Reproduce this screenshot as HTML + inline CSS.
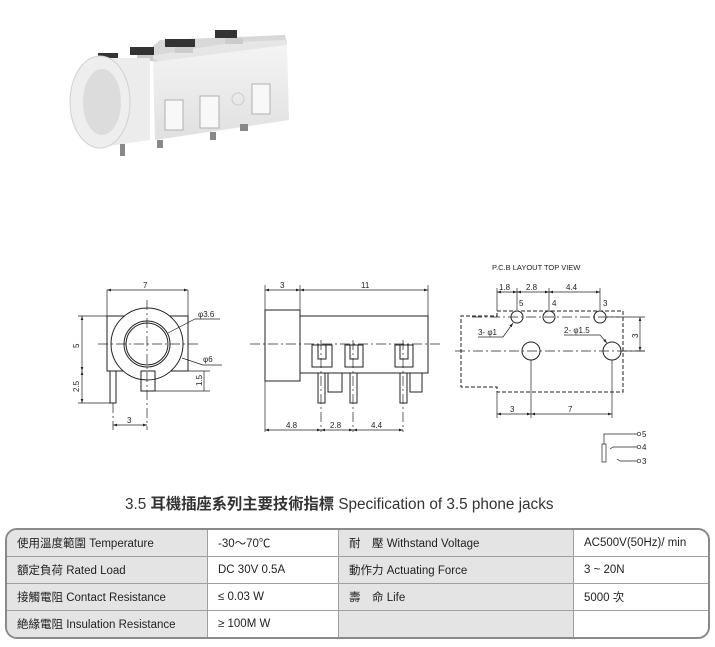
<!DOCTYPE html>
<html><head><meta charset="utf-8"><style>
body{margin:0;background:#fff;width:715px;height:647px;overflow:hidden;position:relative;font-family:"Liberation Sans","Noto Sans CJK TC",sans-serif}
table{position:absolute;left:5px;top:528px;width:705px;border-collapse:separate;border-spacing:0;border:2px solid #8a8a8a;border-radius:12px;overflow:hidden;font-size:11.5px;color:#222;font-family:"Liberation Sans Narrow","Liberation Sans","Noto Sans CJK TC",sans-serif}
td{height:26px;padding:0 0 0 10px;border-right:1.5px solid #a0a0a0;border-bottom:1.5px solid #a0a0a0}
td.g{background:#e4e4e4}
tr:last-child td{border-bottom:none}
td:last-child{border-right:none}
</style></head><body>
<svg width="715" height="525" style="position:absolute;left:0;top:0" font-family="Liberation Sans, sans-serif">
<defs><marker id="a" markerWidth="6" markerHeight="4" refX="6" refY="2" orient="auto-start-reverse"><path d="M0,0L6,2L0,4z" fill="#222"/></marker>
<linearGradient id="bd" x1="0" y1="0" x2="0" y2="1"><stop offset="0" stop-color="#f4f4f4"/><stop offset="1" stop-color="#e0e0e0"/></linearGradient></defs>
<g>
<polygon points="140,58 160,40 285,35 287,44 155,62" fill="#d8d8d8"/>
<polygon points="150,56 235,42 287,40 287,48 160,62" fill="#e6e6e6"/>
<rect x="98" y="53" width="20" height="8" fill="#333"/>
<rect x="130" y="47" width="24" height="8" fill="#333"/>
<rect x="165" y="39" width="30" height="8" fill="#333"/>
<rect x="215" y="30" width="22" height="8" fill="#333"/>
<rect x="104" y="60" width="14" height="6" fill="#ccc"/>
<rect x="137" y="55" width="16" height="6" fill="#ccc"/>
<rect x="175" y="47" width="18" height="6" fill="#ccc"/>
<rect x="225" y="38" width="18" height="6" fill="#ccc"/>
<polygon points="153,62 287,45 289,120 155,140" fill="url(#bd)"/>
<path d="M95,58 L150,58 L150,140 L95,148 Z" fill="#ececec"/>
<ellipse cx="100" cy="102" rx="30" ry="46" fill="#eeeeee" stroke="#d0d0d0"/>
<ellipse cx="102" cy="102" rx="19" ry="33" fill="#dcdcdc"/>
<rect x="165" y="100" width="18" height="30" fill="#f8f8f8" stroke="#b0b0b0"/>
<rect x="200" y="96" width="19" height="32" fill="#f8f8f8" stroke="#b0b0b0"/>
<rect x="252" y="84" width="18" height="30" fill="#f8f8f8" stroke="#b0b0b0"/>
<circle cx="238" cy="99" r="6" fill="none" stroke="#ccc"/>
<rect x="120" y="144" width="5" height="12" fill="#888"/><rect x="157" y="140" width="6" height="8" fill="#888"/><rect x="210" y="132" width="6" height="8" fill="#888"/><rect x="240" y="124" width="8" height="7" fill="#888"/>
</g>
<g stroke="#222" fill="none" stroke-width="1">
<rect x="107" y="316" width="81" height="55"/>
<circle cx="147" cy="344" r="36" fill="#fff"/>
<circle cx="147" cy="344" r="23"/><circle cx="147" cy="344" r="21"/>
<rect x="110" y="371" width="6" height="32"/><rect x="141" y="371" width="14" height="20"/>
<g stroke-dasharray="10,3,2,3" stroke-width=".7"><line x1="98" y1="344" x2="200" y2="344"/><line x1="147" y1="300" x2="147" y2="430"/><line x1="113" y1="403" x2="113" y2="430"/></g>
<g stroke-width=".7"><line x1="107" y1="290" x2="107" y2="316"/><line x1="188" y1="290" x2="188" y2="316"/>
<line x1="107" y1="290" x2="188" y2="290" marker-start="url(#a)" marker-end="url(#a)"/>
<line x1="78" y1="316" x2="107" y2="316"/><line x1="78" y1="403" x2="110" y2="403"/>
<line x1="82" y1="316" x2="82" y2="371" marker-start="url(#a)" marker-end="url(#a)"/>
<line x1="82" y1="371" x2="82" y2="403" marker-start="url(#a)" marker-end="url(#a)"/>
<line x1="113" y1="425" x2="147" y2="425" marker-start="url(#a)" marker-end="url(#a)"/>
<line x1="155" y1="391" x2="210" y2="391"/><line x1="188" y1="371" x2="210" y2="371"/>
<line x1="204" y1="371" x2="204" y2="391"/>
<polyline points="168,333 195,319 220,319"/><polyline points="182,358 203,365 222,365"/></g>
<rect x="265" y="310" width="35" height="71"/>
<rect x="300" y="316" width="128" height="57"/>
<g><rect x="312" y="345" width="20" height="22"/><rect x="318" y="345" width="8" height="14"/>
<rect x="345" y="345" width="18" height="22"/><rect x="350" y="345" width="8" height="14"/>
<rect x="395" y="345" width="18" height="22"/><rect x="400" y="345" width="8" height="14"/>
<rect x="318" y="373" width="7" height="30"/><rect x="350" y="373" width="7" height="30"/><rect x="400" y="373" width="7" height="30"/>
<rect x="328" y="373" width="14" height="19"/><rect x="410" y="373" width="12" height="19"/></g>
<g stroke-dasharray="10,3,2,3" stroke-width=".7"><line x1="250" y1="344" x2="440" y2="344"/><line x1="321" y1="340" x2="321" y2="432"/><line x1="353" y1="340" x2="353" y2="432"/><line x1="403" y1="340" x2="403" y2="432"/></g>
<g stroke-width=".7"><line x1="265" y1="285" x2="265" y2="432"/><line x1="300" y1="285" x2="300" y2="310"/><line x1="428" y1="285" x2="428" y2="316"/>
<line x1="265" y1="290" x2="300" y2="290" marker-start="url(#a)" marker-end="url(#a)"/>
<line x1="300" y1="290" x2="428" y2="290" marker-start="url(#a)" marker-end="url(#a)"/>
<line x1="265" y1="430" x2="321" y2="430" marker-start="url(#a)" marker-end="url(#a)"/>
<line x1="321" y1="430" x2="353" y2="430" marker-start="url(#a)" marker-end="url(#a)"/>
<line x1="353" y1="430" x2="403" y2="430" marker-start="url(#a)" marker-end="url(#a)"/></g>
<polyline stroke-dasharray="4,2" points="497,311 623,311 623,392 497,392 497,387 461,387 461,316 497,316 497,311"/>
<circle cx="517" cy="317" r="6" fill="#fff"/><circle cx="549" cy="317" r="6" fill="#fff"/><circle cx="600" cy="317" r="6" fill="#fff"/>
<circle cx="531" cy="351" r="9" fill="#fff"/><circle cx="612" cy="351" r="9" fill="#fff"/>
<g stroke-dasharray="10,3,2,3" stroke-width=".7"><line x1="455" y1="351" x2="645" y2="351"/><line x1="472" y1="317" x2="620" y2="317"/></g>
<g stroke-width=".7"><line x1="497" y1="288" x2="497" y2="311"/><line x1="517" y1="288" x2="517" y2="310"/><line x1="549" y1="288" x2="549" y2="310"/><line x1="600" y1="288" x2="600" y2="310"/>
<line x1="497" y1="292" x2="517" y2="292" marker-start="url(#a)" marker-end="url(#a)"/>
<line x1="517" y1="292" x2="549" y2="292" marker-start="url(#a)" marker-end="url(#a)"/>
<line x1="549" y1="292" x2="600" y2="292" marker-start="url(#a)" marker-end="url(#a)"/>
<line x1="606" y1="317" x2="645" y2="317"/><line x1="622" y1="351" x2="645" y2="351"/>
<line x1="640" y1="317" x2="640" y2="351" marker-start="url(#a)" marker-end="url(#a)"/>
<line x1="497" y1="392" x2="497" y2="418"/><line x1="531" y1="360" x2="531" y2="418"/><line x1="612" y1="360" x2="612" y2="418"/>
<line x1="497" y1="414" x2="531" y2="414" marker-start="url(#a)" marker-end="url(#a)"/>
<line x1="531" y1="414" x2="612" y2="414" marker-start="url(#a)" marker-end="url(#a)"/>
<polyline points="478,337 503,337 513,323" marker-end="url(#a)"/>
<polyline points="564,335 600,335 607,343" marker-end="url(#a)"/>
<rect x="602" y="444" width="4" height="18"/>
<polyline points="604,444 604,434 637,434"/><polyline points="610,449 613,447 637,447"/><polyline points="617,459 620,461 637,461"/>
<circle cx="639" cy="434" r="1.8"/><circle cx="639" cy="447" r="1.8"/><circle cx="639" cy="461" r="1.8"/></g>
</g>
<g font-size="8" fill="#222">
<text x="143" y="288">7</text><text x="198" y="317">φ3.6</text><text x="203" y="362">φ6</text>
<text x="79" y="348" transform="rotate(-90 79 348)">5</text><text x="79" y="392" transform="rotate(-90 79 392)">2.5</text>
<text x="202" y="386" transform="rotate(-90 202 386)">1.5</text><text x="127" y="423">3</text>
<text x="280" y="288">3</text><text x="361" y="288">11</text>
<text x="286" y="428">4.8</text><text x="330" y="428">2.8</text><text x="371" y="428">4.4</text>
<text x="492" y="270" font-size="7.5">P.C.B LAYOUT    TOP VIEW</text>
<text x="499" y="290">1.8</text><text x="526" y="290">2.8</text><text x="566" y="290">4.4</text>
<text x="519" y="306">5</text><text x="552" y="306">4</text><text x="603" y="306">3</text>
<text x="478" y="335">3- φ1</text><text x="564" y="333">2- φ1.5</text>
<text x="638" y="338" transform="rotate(-90 638 338)">3</text>
<text x="510" y="412">3</text><text x="568" y="412">7</text>
<text x="642" y="437">5</text><text x="642" y="450">4</text><text x="642" y="464">3</text>
</g>
<text x="125" y="509" font-size="15.3" fill="#333" font-family="Liberation Sans, Noto Sans CJK TC, sans-serif">3.5 <tspan font-weight="bold">耳機插座系列主要技術指標</tspan> Specification of 3.5 phone jacks</text>
</svg>
<table>
<tr><td class="g" style="width:190px">使用溫度範圍 Temperature</td><td style="width:120px">-30～70℃</td><td class="g" style="width:224px">耐　壓 Withstand Voltage</td><td>AC500V(50Hz)/ min</td></tr>
<tr><td class="g">額定負荷 Rated Load</td><td>DC 30V 0.5A</td><td class="g">動作力 Actuating Force</td><td>3 ~ 20N</td></tr>
<tr><td class="g">接觸電阻 Contact Resistance</td><td>≤ 0.03 W</td><td class="g">壽　命 Life</td><td>5000 次</td></tr>
<tr><td class="g">絶緣電阻 Insulation Resistance</td><td>≥ 100M W</td><td class="g"></td><td></td></tr>
</table>
</body></html>
